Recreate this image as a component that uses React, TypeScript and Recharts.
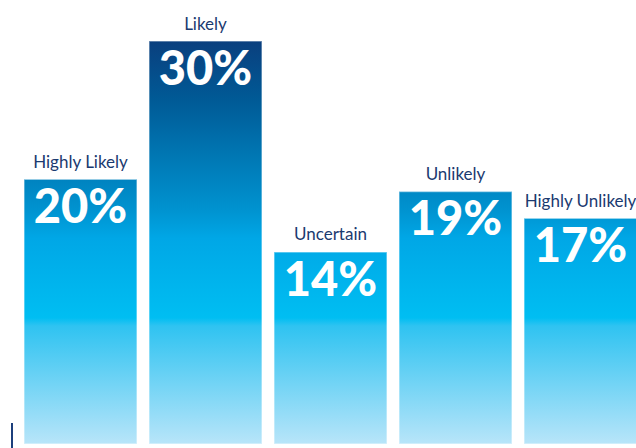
import React from "react";
import { BarChart, Bar, XAxis, YAxis, LabelList } from "recharts";

const categories = ["Highly Likely", "Likely", "Uncertain", "Unlikely", "Highly Unlikely"];
const shares = [19.7, 30, 14.3, 18.8, 16.8];
const shareLabels = ["20%", "30%", "14%", "19%", "17%"];

const data = categories.map((c, i) => ({ name: c, value: shares[i], label: shareLabels[i] }));

const renderCategory = (props: any) => {
  const { x, y, width, index } = props;
  return (
    <text
      x={x + width / 2}
      y={y - 11.5}
      textAnchor="middle"
      fill="#1b3a70"
      fontSize={17}
      fontFamily="Lato, 'Open Sans', sans-serif"
    >
      {categories[index]}
    </text>
  );
};

const renderShare = (props: any) => {
  const { x, y, width, index } = props;
  return (
    <text
      x={x + width / 2}
      y={y + 44}
      textAnchor="middle"
      fill="#ffffff"
      fontSize={47}
      fontWeight={900}
      fontFamily="Lato, 'Open Sans', sans-serif"
    >
      {shareLabels[index]}
    </text>
  );
};

export default function App() {
  return (
    <div style={{ position: "absolute", left: 0, top: 0, width: 636, height: 448, overflow: "hidden", background: "#fff" }}>
      <BarChart
        width={660}
        height={448}
        data={data}
        margin={{ top: 41, right: 17, bottom: 4, left: 18 }}
        barCategoryGap={6}
      >
        <defs>
          <linearGradient id="barGrad" gradientUnits="userSpaceOnUse" x1={0} y1={41} x2={0} y2={444}>
            <stop offset={0} stopColor="#0a3f7e" />
            <stop offset={0.146} stopColor="#005a96" />
            <stop offset={0.42} stopColor="#0093d0" />
            <stop offset={0.49} stopColor="#00a7e6" />
            <stop offset={0.687} stopColor="#00bef2" />
            <stop offset={0.707} stopColor="#2fc3f1" />
            <stop offset={1} stopColor="#b8e5f9" />
          </linearGradient>
        </defs>
        <XAxis dataKey="name" hide />
        <YAxis hide domain={[0, 30]} />
        <Bar
          dataKey="value"
          fill="url(#barGrad)"
          stroke="rgba(255,255,255,0.45)"
          strokeWidth={1.5}
          isAnimationActive={false}
        >
          <LabelList dataKey="value" content={renderCategory} />
          <LabelList dataKey="label" content={renderShare} />
        </Bar>
      </BarChart>
      <div style={{ position: "absolute", left: 11, top: 423, width: 2, height: 25, background: "#1c3f7c" }} />
    </div>
  );
}
